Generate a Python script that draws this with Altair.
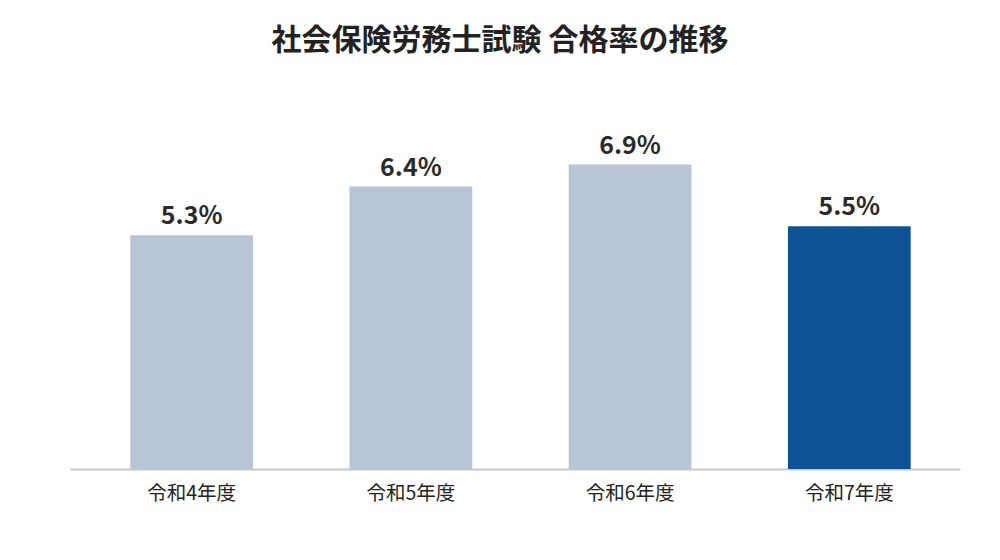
import altair as alt
import pandas as pd

years = ["令和4年度", "令和5年度", "令和6年度", "令和7年度"]
rates = [5.3, 6.4, 6.9, 5.5]
labels = ["5.3%", "6.4%", "6.9%", "5.5%"]
highlight = [False, False, False, True]

df = pd.DataFrame({"year": years, "rate": rates, "label": labels, "hl": highlight})

FONT = "Noto Sans CJK JP"

x = alt.X("year:N", sort=years, title=None,
          scale=alt.Scale(paddingInner=0.44, paddingOuter=0.25, align=0.55),
          axis=alt.Axis(labelAngle=0, labelFont=FONT, labelFontSize=19.5,
                        labelColor="#222222", labelPadding=15, ticks=False, tickSize=0,
                        domainColor="#c8c8c8", domainWidth=2))
y = alt.Y("rate:Q", title=None, scale=alt.Scale(domain=[0, 8], nice=False),
          axis=None)

bars = alt.Chart(df).mark_bar().encode(
    x=x, y=y,
    color=alt.Color("hl:N", scale=alt.Scale(domain=[False, True], range=["#b8c5d6", "#0d5394"]),
                    legend=None),
)

text = alt.Chart(df).mark_text(
    baseline="alphabetic", dy=-11, font=FONT, fontSize=25, fontWeight="bold", color="#2a2a2a"
).encode(x=alt.X("year:N", sort=years), y="rate:Q", text="label:N")

chart = alt.layer(bars, text).properties(
    width=890, height=353,
    title=alt.TitleParams("社会保険労務士試験 合格率の推移", font=FONT, fontSize=30,
                          fontWeight="bold", color="#222222", anchor="middle",
                          offset=60, dx=-15),
    autosize=alt.AutoSizeParams(type="none"),
    padding={"left": 62, "top": 108, "right": 10, "bottom": 60},
).configure(background="white", view=alt.ViewConfig(stroke="transparent", strokeWidth=0))

chart.save("out.html", embed_options={"renderer": "svg", "actions": False})
